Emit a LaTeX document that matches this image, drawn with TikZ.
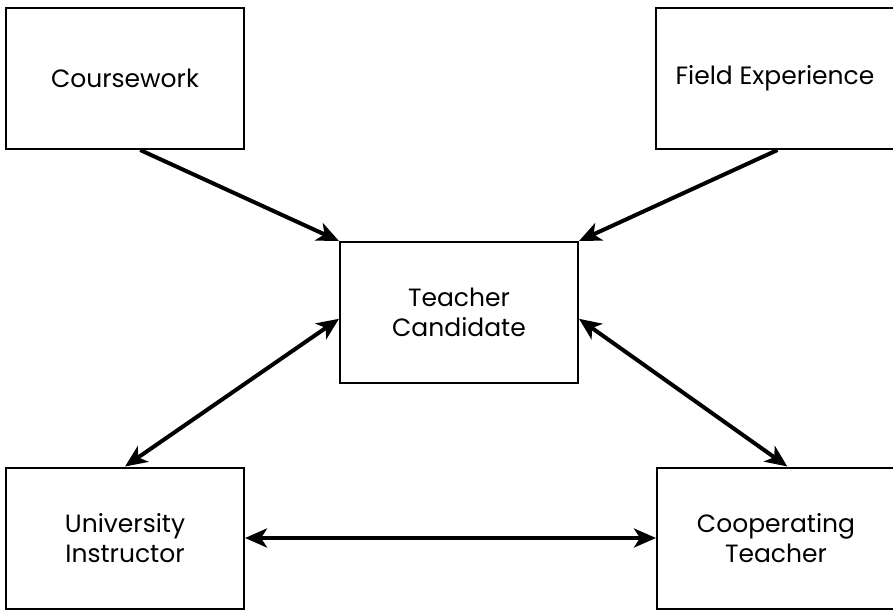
\documentclass[tikz,border=0pt]{standalone}
\usepackage{fontspec}
\setmainfont{Poppins}
\usetikzlibrary{arrows.meta}
\tikzset{
	box/.style={draw,line width=2pt,minimum width=238pt,minimum height=141pt,align=center,font=\fontsize{25}{30}\selectfont,inner sep=0pt},
	link/.style={line width=4pt,-{Stealth[length=22pt,width=19pt,inset=6pt]}},
	both/.style={link,{Stealth[length=22pt,width=19pt,inset=6pt]}-{Stealth[length=22pt,width=19pt,inset=6pt]}}
}
\begin{document}
\begin{tikzpicture}[x=1pt,y=-1pt]
	\useasboundingbox(0,0)rectangle(893,610);
	\node[box](cw)at(125,78.5){Coursework};
	\node[box](fe)at(775,78.5){Field Experience};
	\node[box](tc)at(459,312.5){Teacher\\Candidate};
	\node[box](ui)at(125,538){University\\Instructor};
	\node[box](ct)at(776,538){Cooperating\\Teacher};
	\draw[link](cw.-78)--(tc.north west);
	\draw[link](fe.-88)--(tc.north east);
	\draw[both](tc.-177)--(ui.north);
	\draw[both](tc.-3)--(ct.81);
	\draw[both](ui.east)--(ct.west);
\end{tikzpicture}
\end{document}
